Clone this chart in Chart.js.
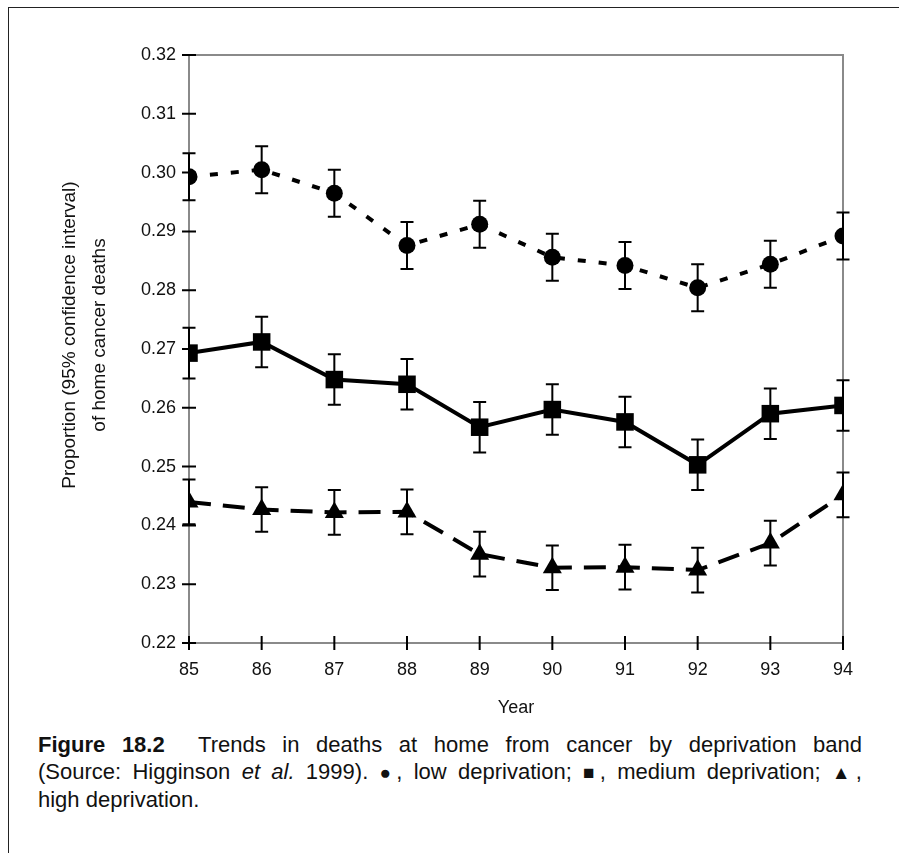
<!DOCTYPE html>
<html>
<head>
<meta charset="utf-8">
<script src="https://cdn.jsdelivr.net/npm/chart.js@4/dist/chart.umd.min.js"></script>
<style>
  html, body { margin: 0; padding: 0; background: #fff; }
  #page { position: relative; width: 899px; height: 853px; overflow: hidden; }
  #frame { position: absolute; left: 8px; top: 7px; right: -2px; bottom: -2px;
           border-left: 1.5px solid #222; border-top: 1.5px solid #222; }
  #chartBox { position: absolute; left: 0; top: 0; width: 899px; height: 719px; }
  #caption { position: absolute; left: 38px; top: 731px; width: 824px;
             font-family: "Liberation Sans", Arial, sans-serif; font-size: 22px;
             line-height: 27px; color: #111; }
  #caption .ln { display: block; text-align: justify; text-align-last: justify; }
  #caption .last { text-align-last: left; }
  #caption .sym { font-size: 19px; }
</style>
</head>
<body>
<div id="page">
  <div id="frame"></div>
  <div id="chartBox"><canvas id="chart"></canvas></div>
  <div id="caption">
    <span class="ln"><b>Figure 18.2</b>&nbsp;&nbsp;Trends in deaths at home from cancer by deprivation band</span>
    <span class="ln">(Source: Higginson <i>et al.</i> 1999). <span class="sym">●</span>, low deprivation; <span class="sym">■</span>, medium deprivation; <span class="sym">▲</span>,</span>
    <span class="ln last">high deprivation.</span>
  </div>
</div>
<script>
// data
const years = [85, 86, 87, 88, 89, 90, 91, 92, 93, 94];
const lowDep = [0.2993, 0.3005, 0.2965, 0.2876, 0.2912, 0.2856, 0.2842, 0.2804, 0.2844, 0.2892];
const lowErr = [0.0040, 0.0040, 0.0040, 0.0040, 0.0040, 0.0040, 0.0040, 0.0040, 0.0040, 0.0040];
const medDep = [0.2693, 0.2712, 0.2648, 0.2640, 0.2567, 0.2597, 0.2576, 0.2503, 0.2590, 0.2604];
const medErr = [0.0043, 0.0043, 0.0043, 0.0043, 0.0043, 0.0043, 0.0043, 0.0043, 0.0043, 0.0043];
const highDep = [0.2440, 0.2427, 0.2422, 0.2423, 0.2351, 0.2328, 0.2329, 0.2324, 0.2370, 0.2452];
const highErr = [0.0038, 0.0038, 0.0038, 0.0038, 0.0038, 0.0038, 0.0038, 0.0038, 0.0038, 0.0038];
const yTitle = ["Proportion (95% confidence interval)", "of home cancer deaths"];

const FONT = '"Liberation Sans", Arial, sans-serif';

function toPoints(vals) {
  return years.map((yr, i) => ({ x: yr, y: vals[i] }));
}

// error bars, box, crossing ticks and the two-line y title
const extras = {
  id: "extras",
  afterDatasetsDraw(chart) {
    const { ctx, chartArea: a, scales: { x, y } } = chart;
    const errs = [lowErr, medErr, highErr];

    ctx.save();
    // plot box
    ctx.strokeStyle = "#8a8a8a";
    ctx.lineWidth = 2;
    ctx.strokeRect(a.left, a.top, a.right - a.left, a.bottom - a.top);

    // error bars
    ctx.strokeStyle = "#000";
    ctx.lineWidth = 2;
    chart.data.datasets.forEach((ds, d) => {
      ds.data.forEach((p, i) => {
        const px = x.getPixelForValue(p.x);
        const top = y.getPixelForValue(p.y + errs[d][i]);
        const bot = y.getPixelForValue(p.y - errs[d][i]);
        ctx.beginPath();
        ctx.moveTo(px, top); ctx.lineTo(px, bot);
        ctx.moveTo(px - 6.5, top); ctx.lineTo(px + 6.5, top);
        ctx.moveTo(px - 6.5, bot); ctx.lineTo(px + 6.5, bot);
        ctx.stroke();
      });
    });

    // ticks crossing the axes
    ctx.beginPath();
    y.ticks.forEach(t => {
      const py = y.getPixelForValue(t.value);
      ctx.moveTo(a.left - 7, py); ctx.lineTo(a.left + 7, py);
    });
    x.ticks.forEach(t => {
      const px = x.getPixelForValue(t.value);
      ctx.moveTo(px, a.bottom - 7); ctx.lineTo(px, a.bottom + 7);
    });
    ctx.stroke();

    // y title
    ctx.fillStyle = "#111";
    ctx.font = "19px " + FONT;
    ctx.textAlign = "center";
    ctx.textBaseline = "middle";
    ctx.translate(70, 335);
    ctx.rotate(-Math.PI / 2);
    ctx.fillText(yTitle[0], 0, 0);
    ctx.fillText(yTitle[1], 0, 30);
    ctx.restore();
  }
};

new Chart(document.getElementById("chart"), {
  type: "line",
  data: {
    datasets: [
      {
        label: "low deprivation",
        data: toPoints(lowDep),
        borderColor: "#000",
        backgroundColor: "#000",
        borderWidth: 4,
        borderDash: [8, 13],
        pointStyle: "circle",
        pointRadius: 8.5,
        pointBorderWidth: 0
      },
      {
        label: "medium deprivation",
        data: toPoints(medDep),
        borderColor: "#000",
        backgroundColor: "#000",
        borderWidth: 4,
        pointStyle: "rect",
        pointRadius: 12.4,
        pointBorderWidth: 0
      },
      {
        label: "high deprivation",
        data: toPoints(highDep),
        borderColor: "#000",
        backgroundColor: "#000",
        borderWidth: 4,
        borderDash: [22, 12],
        pointStyle: "triangle",
        pointRadius: 11,
        pointBorderWidth: 0
      }
    ]
  },
  options: {
    responsive: true,
    maintainAspectRatio: false,
    animation: false,
    events: [],
    layout: { padding: { left: 0, top: 55, right: 56, bottom: 0 } },
    plugins: { legend: { display: false }, tooltip: { enabled: false } },
    scales: {
      x: {
        type: "linear",
        min: 85,
        max: 94,
        grid: { display: false, drawTicks: false },
        border: { display: false },
        ticks: {
          stepSize: 1,
          padding: 16,
          color: "#111",
          font: { family: FONT, size: 18 }
        },
        title: {
          display: true,
          text: "Year",
          color: "#111",
          font: { family: FONT, size: 18 },
          padding: { top: 0, bottom: 0 }
        },
        afterFit(s) { s.height = 76; }
      },
      y: {
        min: 0.22,
        max: 0.32,
        grid: { display: false, drawTicks: false },
        border: { display: false },
        ticks: {
          stepSize: 0.01,
          padding: 13,
          color: "#111",
          font: { family: FONT, size: 18 },
          callback: v => v.toFixed(2)
        },
        afterFit(s) { s.width = 189; }
      }
    }
  },
  plugins: [extras]
});
</script>
</body>
</html>
